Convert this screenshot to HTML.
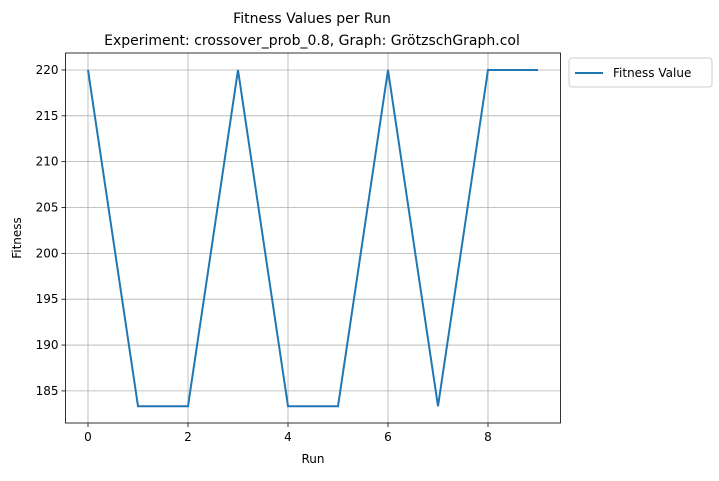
<!DOCTYPE html>
<html><head><meta charset="utf-8"><style>
body{margin:0;background:#fff;font-family:"Liberation Sans","DejaVu Sans",sans-serif;}
svg text{font-family:"DejaVu Sans","Liberation Sans",sans-serif;}
</style></head><body>
<svg id="chart" width="719" height="476" xmlns="http://www.w3.org/2000/svg">
<rect width="719" height="476" fill="#fff"/>
<g id="grid"></g>
<g id="axes"></g>
<path id="line" fill="none" stroke="#1f77b4" stroke-width="2"/>
<rect x="65.5" y="53" width="495" height="370" fill="none" stroke="#000" stroke-width="0.8"/>
<text x="312" y="23" font-size="14" text-anchor="middle">Fitness Values per Run</text>
<text x="312" y="45" font-size="14" text-anchor="middle">Experiment: crossover_prob_0.8, Graph: GrötzschGraph.col</text>
<text x="313" y="463" font-size="12" text-anchor="middle">Run</text>
<text x="21" y="238" font-size="12" text-anchor="middle" transform="rotate(-90 21 238)">Fitness</text>
<g>
<rect x="569" y="58" width="143" height="29" rx="3" fill="#fff" stroke="#ccc"/>
<line x1="575" y1="73" x2="603" y2="73" stroke="#1f77b4" stroke-width="2"/>
<text x="613" y="77" font-size="12">Fitness Value</text>
</g>
</svg>
<script>
const runs=[0,1,2,3,4,5,6,7,8,9];
const fitness=[220,183.33,183.33,220,183.33,183.33,220,183.33,220,220];
const xTicks=[0,2,4,6,8];
const yTicks=[185,190,195,200,205,210,215,220];
const X0=65.5,X1=560.5,Y0=423,Y1=53;
const xmin=-0.45,xmax=9.45,ymin=181.5,ymax=221.85;
function sx(v){return X0+(v-xmin)/(xmax-xmin)*(X1-X0);}
function sy(v){return Y0-(v-ymin)/(ymax-ymin)*(Y0-Y1);}
const ns="http://www.w3.org/2000/svg";
const grid=document.getElementById('grid'),axes=document.getElementById('axes');
function mk(t,a,p){const e=document.createElementNS(ns,t);for(const k in a)e.setAttribute(k,a[k]);p.appendChild(e);return e;}
xTicks.forEach(v=>{
 const x=sx(v);
 const g=mk('line',{x1:x,x2:x,y1:Y1,y2:Y0,stroke:'#b0b0b0','stroke-width':0.8},grid);
 
 
 const t=mk('line',{x1:x,x2:x,y1:Y0,y2:Y0+4,stroke:'#000','stroke-width':0.8},axes);
 
 
 const l=mk('text',{x:x,y:Y0+18,'font-size':12,'text-anchor':'middle'},axes);l.textContent=v;
 
 
});
yTicks.forEach(v=>{
 const y=sy(v);
 const g=mk('line',{x1:X0,x2:X1,y1:y,y2:y,stroke:'#b0b0b0','stroke-width':0.8},grid);
 
 
 const t=mk('line',{x1:X0-4,x2:X0,y1:y,y2:y,stroke:'#000','stroke-width':0.8},axes);
 
 
 const l=mk('text',{x:X0-7,y:y+4,'font-size':12,'text-anchor':'end'},axes);l.textContent=v;
 
 
});
document.getElementById('line').setAttribute('d',runs.map((r,i)=>(i?'L':'M')+sx(r)+' '+sy(fitness[i])).join(' '));
</script>
</body></html>
